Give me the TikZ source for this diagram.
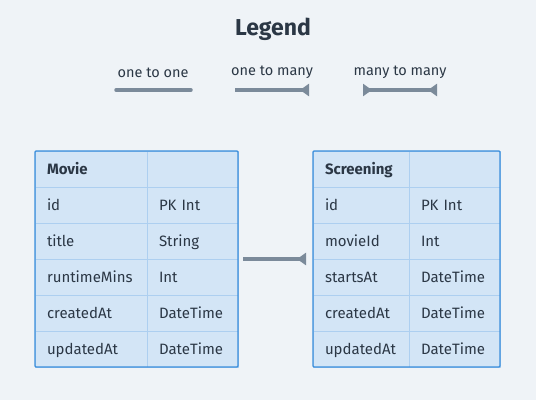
\documentclass[tikz,border=0pt]{standalone}
\usepackage{fontspec}
\setmainfont{Fira Sans}
\usetikzlibrary{arrows.meta, positioning}
\usepackage{xcolor}

\definecolor{paper}{HTML}{EFF3F7}
\definecolor{cellfill}{HTML}{D3E5F6}
\definecolor{cellrule}{HTML}{ADCFF0}
\definecolor{frame}{HTML}{3B8EDB}
\definecolor{ink}{HTML}{2B3745}
\definecolor{relgray}{HTML}{7B8A9A}

\tikzset{
  cell/.style={draw=cellrule, fill=cellfill, line width=1pt, outer sep=0pt,
    minimum height=36pt, inner xsep=12pt, inner ysep=0pt, align=left,
    text height=11pt, text depth=0pt, text=ink,
    font=\fontsize{15}{17}\selectfont},
  movkey/.style={cell, text width=88pt},
  movtype/.style={cell, text width=67pt},
  scrkey/.style={cell, text width=72pt},
  scrtype/.style={cell, text width=67pt},
  tableframe/.style={draw=frame, line width=1.2pt, rounded corners=1pt},
  rel/.style={draw=relgray, line width=3.5pt},
  manyend/.tip={Triangle[reversed, length=9pt, width=12pt]},
  legendlabel/.style={text=ink, font=\fontsize{14.5}{16}\selectfont}
}

\begin{document}
\begin{tikzpicture}[x=1pt, y=-1pt]
  \fill[paper] (0,0) rectangle (536,400);
  \useasboundingbox (0,0) rectangle (536,400);

  % legend
  \node[text=ink, font=\fontsize{23}{25}\bfseries] (legend) at (273,29.5) {Legend};
  \node[legendlabel] (lbl-oneone) at (153,72.5) {one to one};
  \node[legendlabel] (lbl-onemany) at (272,72.5) {one to many};
  \node[legendlabel] (lbl-manymany) at (400,72.5) {many to many};

  \coordinate (oo-a) at (116,90);
  \coordinate (oo-b) at (191,90);
  \coordinate (om-a) at (235,90);
  \coordinate (om-b) at (309,90);
  \coordinate (mm-a) at (363,90);
  \coordinate (mm-b) at (437,90);

  \draw[rel, line cap=round] (oo-a) -- (oo-b);
  \draw[rel, -manyend] (om-a) -- (om-b);
  \draw[rel, manyend-manyend] (mm-a) -- (mm-b);

  % Movie table
  \node[movkey, anchor=north west, font=\fontsize{15}{17}\bfseries] (movie-head) at (35,151) {Movie};
  \node[movtype, right=0pt of movie-head] (movie-head-type) {};
  \node[movkey, below=0pt of movie-head] (movie-id) {id};
  \node[movtype, right=0pt of movie-id] (movie-id-type) {PK Int};
  \node[movkey, below=0pt of movie-id] (movie-title) {title};
  \node[movtype, right=0pt of movie-title] (movie-title-type) {String};
  \node[movkey, below=0pt of movie-title] (movie-runtime) {runtimeMins};
  \node[movtype, right=0pt of movie-runtime] (movie-runtime-type) {Int};
  \node[movkey, below=0pt of movie-runtime] (movie-created) {createdAt};
  \node[movtype, right=0pt of movie-created] (movie-created-type) {DateTime};
  \node[movkey, below=0pt of movie-created] (movie-updated) {updatedAt};
  \node[movtype, right=0pt of movie-updated] (movie-updated-type) {DateTime};
  \draw[tableframe] (movie-head.north west) rectangle (movie-updated-type.south east);

  % Screening table
  \node[scrkey, anchor=north west, font=\fontsize{15}{17}\bfseries] (scr-head) at (313,151) {Screening};
  \node[scrtype, right=0pt of scr-head] (scr-head-type) {};
  \node[scrkey, below=0pt of scr-head] (scr-id) {id};
  \node[scrtype, right=0pt of scr-id] (scr-id-type) {PK Int};
  \node[scrkey, below=0pt of scr-id] (scr-movieid) {movieId};
  \node[scrtype, right=0pt of scr-movieid] (scr-movieid-type) {Int};
  \node[scrkey, below=0pt of scr-movieid] (scr-startsat) {startsAt};
  \node[scrtype, right=0pt of scr-startsat] (scr-startsat-type) {DateTime};
  \node[scrkey, below=0pt of scr-startsat] (scr-created) {createdAt};
  \node[scrtype, right=0pt of scr-created] (scr-created-type) {DateTime};
  \node[scrkey, below=0pt of scr-created] (scr-updated) {updatedAt};
  \node[scrtype, right=0pt of scr-updated] (scr-updated-type) {DateTime};
  \draw[tableframe] (scr-head.north west) rectangle (scr-updated-type.south east);

  % relation
  \draw[rel, -manyend, shorten <=5pt, shorten >=7pt]
    (movie-runtime-type.north east) -- (scr-startsat.north west);
\end{tikzpicture}
\end{document}
